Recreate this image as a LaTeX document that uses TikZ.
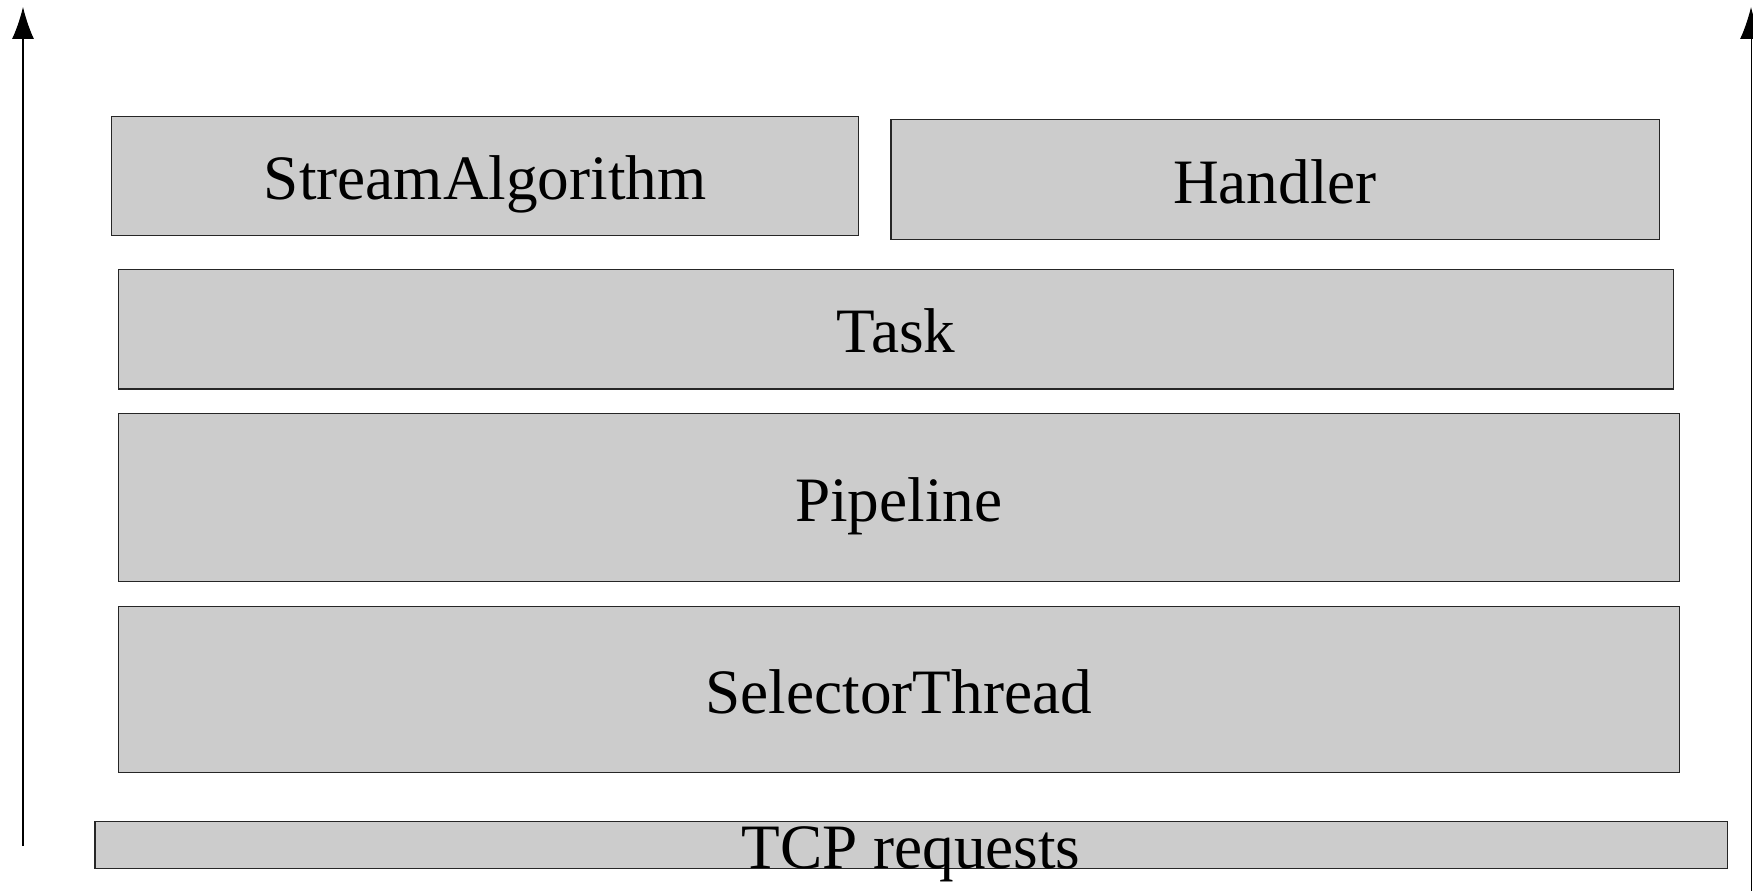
\documentclass[tikz,border=0pt]{standalone}
\usepackage{fontspec}
\setmainfont{Liberation Serif}
\usetikzlibrary{arrows.meta,positioning}
\definecolor{layergray}{HTML}{CCCCCC}

\begin{document}
\begin{tikzpicture}
[x=0.02cm, y=-0.02cm,
every node/.style={draw=black!85,line width=0.6pt,fill=layergray,rectangle,inner sep=0pt,
  font=\fontsize{36}{40}\selectfont,text height=27pt,text depth=0pt},
flow/.style={draw,line width=0.6pt,-{Latex[length=0.64cm,width=0.44cm]}}]
\useasboundingbox (0,0) rectangle (1753,890);
\node[minimum width=746.8*0.02cm, minimum height=119.6*0.02cm] (algo) at (485.2,176.1) {StreamAlgorithm};
\node[minimum width=768*0.02cm, minimum height=119.7*0.02cm] (handler) at (1275,179.5) {Handler};
\node[minimum width=1555*0.02cm, minimum height=119.6*0.02cm] (task) at (896,329.2) {Task};
\node[minimum width=1560.5*0.02cm, minimum height=167.7*0.02cm] (pipe) at (898.8,497.5) {Pipeline};
\node[minimum width=1560.5*0.02cm, minimum height=166.5*0.02cm] (selector) at (898.8,689.3) {SelectorThread};
\node[minimum width=1632*0.02cm, minimum height=47*0.02cm] (tcp) at (911,845.2) {TCP requests};
\coordinate (inLow) at (23,846);
\coordinate (inTop) at (23,7);
\coordinate (outLow) at (1751,895);
\coordinate (outTop) at (1751,7);
\draw[flow] (inLow) -- (inTop);
\draw[flow] (outLow) -- (outTop);
\end{tikzpicture}
\end{document}
